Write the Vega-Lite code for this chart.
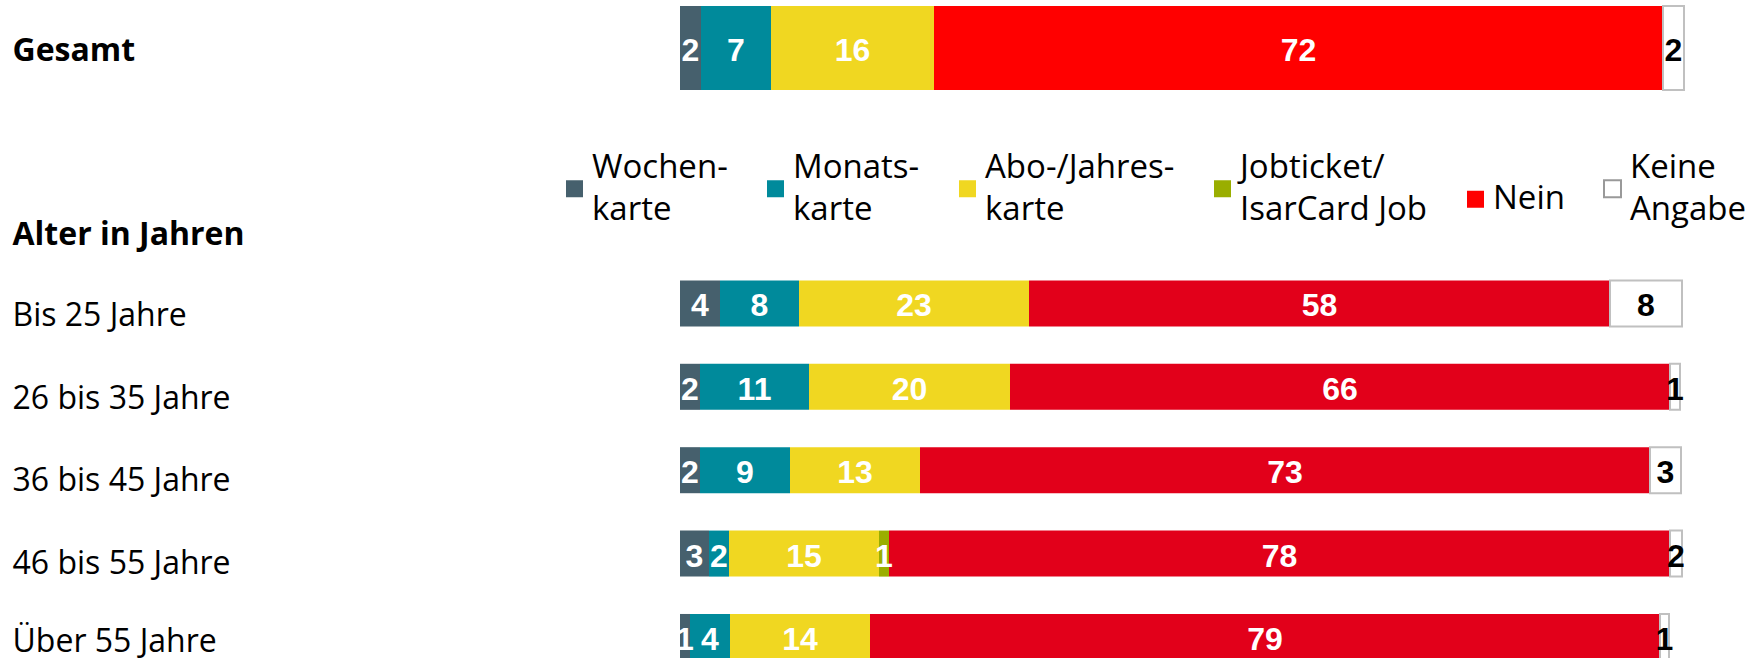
{
  "$schema": "https://vega.github.io/schema/vega-lite/v6.json",
  "autosize": {"type": "pad"},
  "padding": {"left": 12, "top": 5, "right": 0, "bottom": 0},
  "background": "white",
  "config": {"view": {"stroke": null}, "font": "Open Sans", "style": {"guide-label": {"lineHeight": 42}}},
  "datasets": {
    "rows": [
      {"gruppe": "Gesamt", "art": "Wochenkarte", "nr": 1, "wert": 2.1, "label": "2"},
      {"gruppe": "Gesamt", "art": "Monatskarte", "nr": 2, "wert": 7.0, "label": "7"},
      {"gruppe": "Gesamt", "art": "Abo-/Jahreskarte", "nr": 3, "wert": 16.3, "label": "16"},
      {"gruppe": "Gesamt", "art": "Nein", "nr": 5, "wert": 72.9, "label": "72"},
      {"gruppe": "Gesamt", "art": "Keine Angabe", "nr": 6, "wert": 2.1, "label": "2"},
      {"gruppe": "Bis 25 Jahre", "art": "Wochenkarte", "nr": 1, "wert": 4.0, "label": "4"},
      {"gruppe": "Bis 25 Jahre", "art": "Monatskarte", "nr": 2, "wert": 7.9, "label": "8"},
      {"gruppe": "Bis 25 Jahre", "art": "Abo-/Jahreskarte", "nr": 3, "wert": 23.0, "label": "23"},
      {"gruppe": "Bis 25 Jahre", "art": "Nein", "nr": 5, "wert": 58.1, "label": "58"},
      {"gruppe": "Bis 25 Jahre", "art": "Keine Angabe", "nr": 6, "wert": 7.2, "label": "8"},
      {"gruppe": "26 bis 35 Jahre", "art": "Wochenkarte", "nr": 1, "wert": 2.0, "label": "2"},
      {"gruppe": "26 bis 35 Jahre", "art": "Monatskarte", "nr": 2, "wert": 10.9, "label": "11"},
      {"gruppe": "26 bis 35 Jahre", "art": "Abo-/Jahreskarte", "nr": 3, "wert": 20.1, "label": "20"},
      {"gruppe": "26 bis 35 Jahre", "art": "Nein", "nr": 5, "wert": 66.0, "label": "66"},
      {"gruppe": "26 bis 35 Jahre", "art": "Keine Angabe", "nr": 6, "wert": 1.0, "label": "1"},
      {"gruppe": "36 bis 45 Jahre", "art": "Wochenkarte", "nr": 1, "wert": 2.0, "label": "2"},
      {"gruppe": "36 bis 45 Jahre", "art": "Monatskarte", "nr": 2, "wert": 9.0, "label": "9"},
      {"gruppe": "36 bis 45 Jahre", "art": "Abo-/Jahreskarte", "nr": 3, "wert": 13.0, "label": "13"},
      {"gruppe": "36 bis 45 Jahre", "art": "Nein", "nr": 5, "wert": 73.0, "label": "73"},
      {"gruppe": "36 bis 45 Jahre", "art": "Keine Angabe", "nr": 6, "wert": 3.1, "label": "3"},
      {"gruppe": "46 bis 55 Jahre", "art": "Wochenkarte", "nr": 1, "wert": 2.9, "label": "3"},
      {"gruppe": "46 bis 55 Jahre", "art": "Monatskarte", "nr": 2, "wert": 2.0, "label": "2"},
      {"gruppe": "46 bis 55 Jahre", "art": "Abo-/Jahreskarte", "nr": 3, "wert": 15.0, "label": "15"},
      {"gruppe": "46 bis 55 Jahre", "art": "Jobticket/IsarCard Job", "nr": 4, "wert": 1.0, "label": "1"},
      {"gruppe": "46 bis 55 Jahre", "art": "Nein", "nr": 5, "wert": 78.1, "label": "78"},
      {"gruppe": "46 bis 55 Jahre", "art": "Keine Angabe", "nr": 6, "wert": 1.2, "label": "2"},
      {"gruppe": "Über 55 Jahre", "art": "Wochenkarte", "nr": 1, "wert": 1.0, "label": "1"},
      {"gruppe": "Über 55 Jahre", "art": "Monatskarte", "nr": 2, "wert": 4.0, "label": "4"},
      {"gruppe": "Über 55 Jahre", "art": "Abo-/Jahreskarte", "nr": 3, "wert": 14.0, "label": "14"},
      {"gruppe": "Über 55 Jahre", "art": "Nein", "nr": 5, "wert": 79.0, "label": "79"},
      {"gruppe": "Über 55 Jahre", "art": "Keine Angabe", "nr": 6, "wert": 0.9, "label": "1"}
    ]
  },
  "bounds": "flush",
  "spacing": 107,
  "resolve": {"scale": {"color": "independent", "y": "independent"}},
  "vconcat": [
    {
      "width": 1000,
      "height": 84,
      "data": {"name": "rows"},
      "transform": [
        {"filter": "datum.gruppe === 'Gesamt'"},
        {"stack": "wert", "groupby": ["gruppe"], "sort": [{"field": "nr"}], "as": ["x0", "x1"]},
        {"calculate": "(datum.x0 + datum.x1) / 2", "as": "mitte"}
      ],
      "encoding": {
        "y": {
          "field": "gruppe", "type": "nominal", "title": null,
          "scale": {"paddingInner": 0, "paddingOuter": 0},
          "axis": {"domain": false, "ticks": false, "labelAlign": "left", "labelPadding": 668, "labelFont": "Open Sans", "labelFontSize": 32, "labelFontWeight": "bold", "labelColor": "black", "labelLimit": 500, "labelOffset": 3, "labelBaseline": "middle"}
        }
      },
      "layer": [
        {
          "mark": {"type": "bar", "strokeWidth": 2},
          "encoding": {
            "x": {"field": "x0", "type": "quantitative", "scale": {"domain": [0, 100], "nice": false, "zero": false}, "axis": null},
            "x2": {"field": "x1"},
            "color": {
              "field": "art", "type": "nominal",
              "scale": {
                "domain": ["Wochenkarte", "Monatskarte", "Abo-/Jahreskarte", "Jobticket/IsarCard Job", "Nein", "Keine Angabe"],
                "range": ["#46606D", "#008A9B", "#F0D721", "#9AAE00", "#FF0000", "#FFFFFF"]
              },
              "legend": {
                "orient": "none", "legendX": -122, "legendY": 166, "direction": "horizontal",
                "title": null, "padding": 0,
                "labelFont": "Open Sans", "labelFontSize": 33, "labelColor": "black", "labelOffset": 1, "labelLimit": 400,
                "labelBaseline": {"expr": "datum.value === 'Nein' ? 'middle' : 'line-bottom'"},
                "columnPadding": 31, "symbolSize": 289, "symbolType": "square",
                "symbolStrokeColor": {"expr": "datum.value === 'Keine Angabe' ? '#999999' : 'transparent'"},
                "symbolStrokeWidth": 2,
                "labelExpr": "datum.label === 'Wochenkarte' ? ['Wochen-', 'karte'] : datum.label === 'Monatskarte' ? ['Monats-', 'karte'] : datum.label === 'Abo-/Jahreskarte' ? ['Abo-/Jahres-', 'karte'] : datum.label === 'Jobticket/IsarCard Job' ? ['Jobticket/', 'IsarCard Job'] : datum.label === 'Keine Angabe' ? ['Keine', 'Angabe'] : datum.label"
              }
            },
            "stroke": {"condition": {"test": "datum.art === 'Keine Angabe'", "value": "#C0C0C0"}, "value": "transparent"}
          }
        },
        {
          "mark": {"type": "text", "font": "Liberation Sans", "fontWeight": "bold", "fontSize": 32, "baseline": "middle", "align": "center", "dy": 3},
          "encoding": {
            "x": {"field": "mitte", "type": "quantitative"},
            "text": {"field": "label"},
            "color": {"condition": {"test": "datum.art === 'Keine Angabe'", "value": "black"}, "value": "white"}
          }
        }
      ]
    },
    {
      "width": 1000,
      "height": 463,
      "data": {"name": "rows"},
      "transform": [
        {"filter": "datum.gruppe !== 'Gesamt'"},
        {"stack": "wert", "groupby": ["gruppe"], "sort": [{"field": "nr"}], "as": ["x0", "x1"]},
        {"calculate": "(datum.x0 + datum.x1) / 2", "as": "mitte"}
      ],
      "encoding": {
        "y": {
          "field": "gruppe", "type": "nominal", "title": null,
          "scale": {"domain": ["Alter in Jahren", "Bis 25 Jahre", "26 bis 35 Jahre", "36 bis 45 Jahre", "46 bis 55 Jahre", "Über 55 Jahre"], "paddingInner": 0.448, "paddingOuter": 0},
          "axis": {
            "domain": false, "ticks": false, "labelAlign": "left", "labelPadding": 668, "labelFont": "Open Sans", "labelFontSize": 32,
            "labelFontWeight": {"condition": {"test": "datum.value === 'Alter in Jahren'", "value": "bold"}, "value": "normal"},
            "labelOffset": {"condition": [
              {"test": "datum.value === 'Alter in Jahren'", "value": 15},
              {"test": "datum.value === 'Bis 25 Jahre'", "value": 13},
              {"test": "datum.value === '26 bis 35 Jahre'", "value": 12},
              {"test": "datum.value === '36 bis 45 Jahre'", "value": 11},
              {"test": "datum.value === '46 bis 55 Jahre'", "value": 10}
            ], "value": 5},
            "labelColor": "black", "labelLimit": 500, "labelBaseline": "middle"
          }
        }
      },
      "layer": [
        {
          "mark": {"type": "bar", "strokeWidth": 2},
          "encoding": {
            "x": {"field": "x0", "type": "quantitative", "scale": {"domain": [0, 100], "nice": false, "zero": false}, "axis": null},
            "x2": {"field": "x1"},
            "color": {
              "field": "art", "type": "nominal",
              "scale": {
                "domain": ["Wochenkarte", "Monatskarte", "Abo-/Jahreskarte", "Jobticket/IsarCard Job", "Nein", "Keine Angabe"],
                "range": ["#46606D", "#008A9B", "#F0D721", "#9AAE00", "#E2001A", "#FFFFFF"]
              },
              "legend": null
            },
            "stroke": {"condition": {"test": "datum.art === 'Keine Angabe'", "value": "#C0C0C0"}, "value": "transparent"}
          }
        },
        {
          "mark": {"type": "text", "font": "Liberation Sans", "fontWeight": "bold", "fontSize": 32, "baseline": "middle", "align": "center", "dy": 3},
          "encoding": {
            "x": {"field": "mitte", "type": "quantitative"},
            "text": {"field": "label"},
            "color": {"condition": {"test": "datum.art === 'Keine Angabe'", "value": "black"}, "value": "white"}
          }
        }
      ]
    }
  ]
}
